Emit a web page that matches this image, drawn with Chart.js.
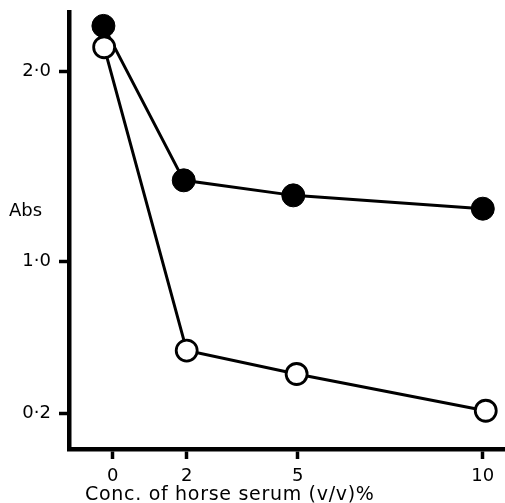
<!DOCTYPE html>
<html lang="en">
<head>
    <meta charset="UTF-8">
    <title>Abs vs horse serum</title>
    <script src="https://cdn.jsdelivr.net/npm/chart.js"></script>
    <style>
        body {
            margin: 0;
            background: #fff;
        }
        .chart-container {
            width: 505px;
            height: 503px;
            position: relative;
        }
    </style>
</head>
<body>
    <div class="chart-container">
        <canvas id="absChart"></canvas>
    </div>

    <script>
        // Values
        const filledX = [-0.25, 1.92, 4.88, 10.0];
        const filledY = [2.237, 1.426, 1.347, 1.277];
        const openX = [-0.23, 2.0, 4.97, 10.08];
        const openY = [2.125, 0.532, 0.409, 0.216];

        const xTicks = [0, 2, 5, 10];
        const yTicks = [0.2, 1.0, 2.0];

        const yLabel = 'Abs';
        const xLabel = 'Conc. of horse serum (v/v)%';

        const FONT = '"DejaVu Sans", sans-serif';

        function toPoints(xs, ys) {
            return xs.map((x, i) => ({ x: x, y: ys[i] }));
        }

        // Draws the horizontal "Abs" and the x title where the figure has them
        const labelsPlugin = {
            id: 'labels',
            afterDraw(chart) {
                const ctx = chart.ctx;
                const yScale = chart.scales.y;
                const area = chart.chartArea;
                ctx.save();
                ctx.fillStyle = '#000';
                ctx.textBaseline = 'middle';
                ctx.textAlign = 'left';
                ctx.font = '18px ' + FONT;
                ctx.fillText(yLabel, 9, yScale.getPixelForValue(1.265));
                ctx.font = '19px ' + FONT;
                ctx.letterSpacing = '0.7px';
                ctx.fillText(xLabel, area.left + 16, 495);
                ctx.restore();
            }
        };

        const axisStyle = {
            display: true,
            drawOnChartArea: false,
            drawTicks: true,
            tickLength: 10,
            tickWidth: 3.5,
            tickColor: '#000'
        };

        new Chart(document.getElementById('absChart').getContext('2d'), {
            type: 'line',
            data: {
                datasets: [{
                    label: 'open',
                    data: toPoints(openX, openY),
                    borderColor: '#000',
                    borderWidth: 3,
                    pointRadius: 10.5,
                    pointBorderWidth: 2.8,
                    pointBackgroundColor: '#fff',
                    pointBorderColor: '#000',
                    tension: 0
                }, {
                    label: 'filled',
                    data: toPoints(filledX, filledY),
                    borderColor: '#000',
                    borderWidth: 3,
                    pointRadius: 11.5,
                    pointBorderWidth: 1,
                    pointBackgroundColor: '#000',
                    pointBorderColor: '#000',
                    tension: 0
                }]
            },
            options: {
                responsive: true,
                maintainAspectRatio: false,
                animation: false,
                clip: false,
                layout: {
                    autoPadding: false,
                    padding: { top: 12, right: 0, left: 0, bottom: 0 }
                },
                plugins: {
                    legend: { display: false },
                    tooltip: { enabled: false }
                },
                scales: {
                    x: {
                        type: 'linear',
                        min: -1.18,
                        max: 10.6,
                        afterBuildTicks: s => { s.ticks = xTicks.map(v => ({ value: v })); },
                        afterFit: s => {
                            s.height = 54;
                            s.paddingLeft = 0;
                            s.paddingRight = 0;
                        },
                        border: { display: true, color: '#000', width: 4.5 },
                        grid: axisStyle,
                        ticks: {
                            color: '#000',
                            padding: 7,
                            maxRotation: 0,
                            font: { family: FONT, size: 18 }
                        }
                    },
                    y: {
                        type: 'linear',
                        min: 0.015,
                        max: 2.31,
                        afterBuildTicks: s => { s.ticks = yTicks.map(v => ({ value: v })); },
                        afterFit: s => {
                            s.width = 69;
                            s.paddingTop = 0;
                            s.paddingBottom = 0;
                        },
                        border: { display: true, color: '#000', width: 4.5 },
                        grid: axisStyle,
                        ticks: {
                            color: '#000',
                            padding: 8,
                            font: { family: FONT, size: 18 },
                            callback: v => v.toFixed(1).replace('.', '·')
                        }
                    }
                }
            },
            plugins: [labelsPlugin]
        });
    </script>
</body>
</html>
